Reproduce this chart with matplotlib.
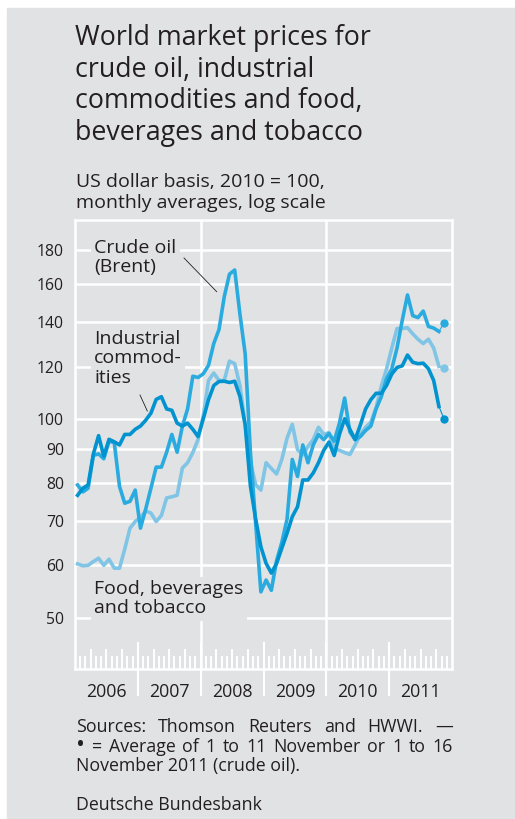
import numpy as np
import matplotlib.pyplot as plt
from matplotlib.patches import Rectangle
from matplotlib.ticker import NullLocator, NullFormatter

plt.rcParams['font.family'] = ['Open Sans', 'DejaVu Sans']

W, H = 515, 819
BG = '#e1e2e4'
TXT = '#231f20'
C_OIL = '#2aabdf'
C_IND = '#0093d0'
C_FOOD = '#80c5e5'

# monthly values, Jan 2006 - Oct 2011, plus November 2011 average (dot)
crude_oil = [79.4, 77.5, 78.5, 88.0, 88.5, 87.0, 92.5, 92.0, 79.0, 74.5, 75.0, 78.0,
             68.3, 73.0, 78.5, 84.5, 84.5, 89.0, 94.7, 89.0, 97.4, 103.5, 116.0, 115.5,
             117.0, 120.5, 130.0, 136.5, 153.0, 165.6, 168.0, 144.0, 125.4, 89.0, 69.5, 54.7,
             57.0, 55.0, 61.0, 65.0, 70.5, 86.8, 81.8, 91.3, 85.8, 91.3, 94.7, 93.0,
             95.0, 92.5, 98.5, 107.5, 95.5, 93.0, 94.0, 96.0, 97.5, 103.5, 108.0, 115.0,
             119.0, 128.0, 141.0, 154.0, 143.3, 142.3, 145.6, 138.0, 137.2, 135.6]
industrial = [76.6, 78.5, 79.4, 88.4, 94.3, 87.8, 93.1, 92.3, 91.3, 94.7, 94.7, 96.4,
              97.5, 99.5, 102.0, 107.0, 108.0, 103.5, 103.0, 98.5, 97.5, 98.5, 96.4, 94.0,
              100.0, 106.9, 112.3, 113.9, 114.0, 113.5, 114.0, 108.1, 97.9, 79.1, 70.5, 64.0,
              60.4, 58.4, 60.4, 63.7, 67.1, 71.1, 73.6, 80.8, 80.8, 82.8, 85.8, 89.6,
              92.2, 88.0, 94.7, 100.0, 96.4, 93.0, 97.9, 103.5, 106.9, 109.3, 109.3, 112.3,
              116.9, 119.6, 120.3, 124.9, 121.8, 121.2, 121.4, 119.1, 114.3, 104.4]
food = [60.3, 59.9, 60.0, 60.8, 61.5, 60.0, 61.3, 59.4, 59.4, 63.5, 68.3, 69.9,
        71.0, 72.5, 72.0, 69.9, 71.4, 75.9, 76.2, 76.6, 84.2, 85.8, 88.9, 93.0,
        101.0, 114.3, 117.3, 114.3, 114.3, 122.3, 121.2, 112.3, 98.0, 86.0, 79.5, 78.0,
        85.8, 84.1, 82.5, 86.8, 93.5, 98.1, 89.8, 88.2, 90.8, 93.0, 97.1, 94.7,
        95.3, 90.1, 89.6, 88.9, 88.3, 91.3, 94.7, 97.1, 98.8, 104.0, 112.0, 119.0,
        128.0, 137.0, 137.0, 137.4, 134.5, 132.0, 130.0, 132.0, 128.0, 120.1]
nov_dots = {'oil': 139.8, 'ind': 99.9, 'food': 119.5}

yticks = [50, 60, 70, 80, 90, 100, 120, 140, 160, 180]
years = ['2006', '2007', '2008', '2009', '2010', '2011']

months = np.arange(len(crude_oil))
x = 2006 + (months + 0.5) / 12
x_nov = 2006 + 70.5 / 12


def fx(px):
    return px / W


def fy(py):
    return 1 - py / H


fig = plt.figure(figsize=(W / 100, H / 100), dpi=100)
fig.patch.set_facecolor('white')
fig.patches.append(Rectangle((fx(7), 0), 1 - fx(7), fy(8),
                             transform=fig.transFigure, color=BG, zorder=-5))

ax = fig.add_axes([fx(75), fy(669), fx(452) - fx(75), fy(220) - fy(669)])
ax.set_facecolor(BG)
ax.set_yscale('log')
ax.set_ylim(41.8, 200)
ax.set_xlim(2006, 2012)

for s in ax.spines.values():
    s.set_color('white')
    s.set_linewidth(1.8)

ax.set_yticks(yticks)
ax.set_yticklabels([str(v) for v in yticks])
ax.yaxis.set_minor_locator(NullLocator())
ax.yaxis.set_minor_formatter(NullFormatter())
ax.tick_params(axis='y', length=0, pad=8, labelsize=11.3, labelcolor=TXT)
ax.grid(axis='y', color='white', linewidth=1.8, zorder=0)
ax.set_axisbelow(True)

ax.set_xticks([2006.5 + i for i in range(6)])
ax.set_xticklabels(years)
ax.tick_params(axis='x', length=0, pad=10, labelsize=12.8, labelcolor=TXT)

for yr in (2008, 2010):
    ax.axvline(yr, color='white', linewidth=1.8, zorder=1)

# month / quarter / year ticks at the bottom
xt = ax.get_xaxis_transform()
for k in range(1, 72):
    pos = 2006 + k / 12
    if k % 12 == 0:
        ax.plot([pos, pos], [-26 / 449, 26 / 449], color='white', lw=1.5,
                transform=xt, clip_on=False, zorder=1)
    elif k % 3 == 0:
        ax.plot([pos, pos], [0, 19 / 449], color='white', lw=1.4, transform=xt, zorder=1)
    else:
        ax.plot([pos, pos], [0, 12 / 449], color='white', lw=1.4, transform=xt, zorder=1)

# series
ax.plot(x, food, color=C_FOOD, lw=2.6, solid_joinstyle='round', zorder=4)
ax.plot(x, crude_oil, color=C_OIL, lw=2.6, solid_joinstyle='round', zorder=5)
ax.plot(x, industrial, color=C_IND, lw=2.6, solid_joinstyle='round', zorder=6)
for series, key, c, z in ((food, 'food', C_FOOD, 4), (crude_oil, 'oil', C_OIL, 5),
                          (industrial, 'ind', C_IND, 6)):
    ax.plot([x[-1], x_nov], [series[-1], nov_dots[key]], color=c, lw=0.8, zorder=z)
    ax.plot([x_nov], [nov_dots[key]], 'o', color=c, ms=6, mec='none', zorder=z)

# series labels
box = dict(facecolor=BG, edgecolor='none', pad=2.5)
lab = dict(transform=fig.transFigure, fontsize=14, color=TXT, va='top', ha='left',
           linespacing=1.1, zorder=3, bbox=box)
ax.text(fx(94), fy(239), 'Crude oil\n(Brent)', **lab)
ax.text(fx(94), fy(330), 'Industrial\ncommod-\nities', **lab)
ax.text(fx(94), fy(580), 'Food, beverages\nand tobacco', **lab)
ax.plot([fx(184), fx(216.7)], [fy(258), fy(291.7)], color=TXT, lw=0.6,
        transform=fig.transFigure, clip_on=False, zorder=3)
ax.plot([fx(140), fx(147.3)], [fy(395), fy(411)], color=TXT, lw=0.6,
        transform=fig.transFigure, clip_on=False, zorder=3)

# title and subtitle
title = ['World market prices for', 'crude oil, industrial',
         'commodities and food,', 'beverages and tobacco']
for i, line in enumerate(title):
    fig.text(fx(75), fy(45 + i * 31.7), line, fontsize=19.3, color=TXT, va='baseline')
fig.text(fx(76), fy(186.7), 'US dollar basis, 2010 = 100,', fontsize=14, color=TXT, va='baseline')
fig.text(fx(76), fy(208.3), 'monthly averages, log scale', fontsize=14, color=TXT, va='baseline')

# footnote
r = fig.canvas.get_renderer()


def justify(words, x0, x1, y, size, first_size=None):
    ts = [fig.text(0, fy(y), w, fontsize=size, color=TXT, va='baseline') for w in words]
    if first_size:
        ts[0].set_fontsize(first_size)
    ws = [t.get_window_extent(r).width for t in ts]
    gap = (x1 - x0 - sum(ws)) / (len(ws) - 1)
    pos = x0
    for t, w in zip(ts, ws):
        t.set_x(fx(pos))
        pos += w + gap


fs = 12.8
justify(['Sources:', 'Thomson', 'Reuters', 'and', 'HWWI.', '\u2014'], 76, 453, 731.7, fs)
justify(['\u2022', '=', 'Average', 'of', '1', 'to', '11', 'November', 'or', '1', 'to', '16'],
        76, 453, 752, fs, first_size=17)
fig.text(fx(76), fy(771.5), 'November 2011 (crude oil).', fontsize=fs, color=TXT, va='baseline')
fig.text(fx(76), fy(810.5), 'Deutsche Bundesbank', fontsize=fs, color=TXT, va='baseline')

fig.savefig('out.png', dpi=100, facecolor='white')
